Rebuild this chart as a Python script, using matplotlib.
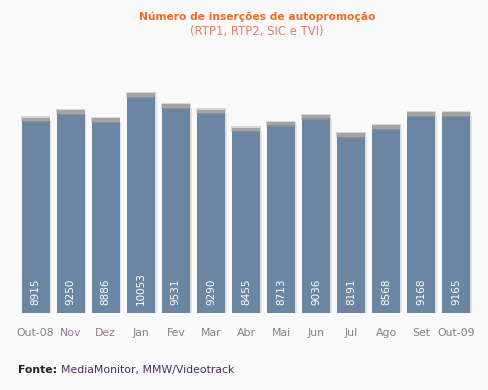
import matplotlib.pyplot as plt
import numpy as np

# data
months = ['Out-08', 'Nov', 'Dez', 'Jan', 'Fev', 'Mar', 'Abr', 'Mai', 'Jun', 'Jul', 'Ago', 'Set', 'Out-09']
insercoes = [8915, 9250, 8886, 10053, 9531, 9290, 8455, 8713, 9036, 8191, 8568, 9168, 9165]

bg = '#fafafa'
bar_col = '#6a86a2'

fig = plt.figure(figsize=(4.88, 3.9), dpi=100, facecolor=bg)
ax = fig.add_axes([18/488, 1 - 313/390, 456/488, 253/390])
ax.set_facecolor(bg)

x = np.arange(len(months))
vals = np.array(insercoes)

# light shadow on the right of each bar
ax.bar(x + 0.05, vals, width=0.8, color='#e0e0e0', zorder=1)
ax.bar(x, vals, width=0.8, color=bar_col, zorder=2)
# grey caps on top (soft edge)
ax.bar(x, np.full(len(x), 280), bottom=vals - 60, width=0.84, color='#d6d6d6', zorder=2)
ax.bar(x, np.full(len(x), 200), bottom=vals - 40, width=0.8, color='#a4a4a4', zorder=3)
ax.bar(x, np.full(len(x), 60), bottom=vals - 60, width=0.8, color='#8a8f96', zorder=3)

for xi, v in zip(x, vals):
    ax.text(xi, 370, str(v), rotation=90, ha='center', va='bottom',
            color='white', fontsize=7.5, zorder=4)

ax.set_xlim(-0.5, len(months) - 0.5)
ax.set_ylim(0, 11750)
ax.set_yticks([])
ax.set_xticks(x)
ax.set_xticklabels(months, fontsize=7.8, color='#8a7a8c')
ax.tick_params(axis='x', length=0, pad=11)
for s in ax.spines.values():
    s.set_visible(False)

fig.text(257/488, 1 - 17/390, 'Número de inserções de autopromoção', ha='center', va='center',
         fontsize=7.7, fontweight='bold', color='#f26a22')
fig.text(257/488, 1 - 31/390, '(RTP1, RTP2, SIC e TVI)', ha='center', va='center',
         fontsize=8.4, color='#f07a6a')

t = fig.text(18/488, 1 - 370/390, 'Fonte:', ha='left', va='center',
             fontsize=7.8, fontweight='bold', color='#222222')
fig.canvas.draw()
bb = t.get_window_extent()
fig.text(bb.x1 / fig.bbox.width + 0.008, 1 - 370/390, 'MediaMonitor, MMW/Videotrack',
         ha='left', va='center', fontsize=7.8, color='#4a2a60')

fig.savefig('out.png', dpi=100, facecolor=bg)
